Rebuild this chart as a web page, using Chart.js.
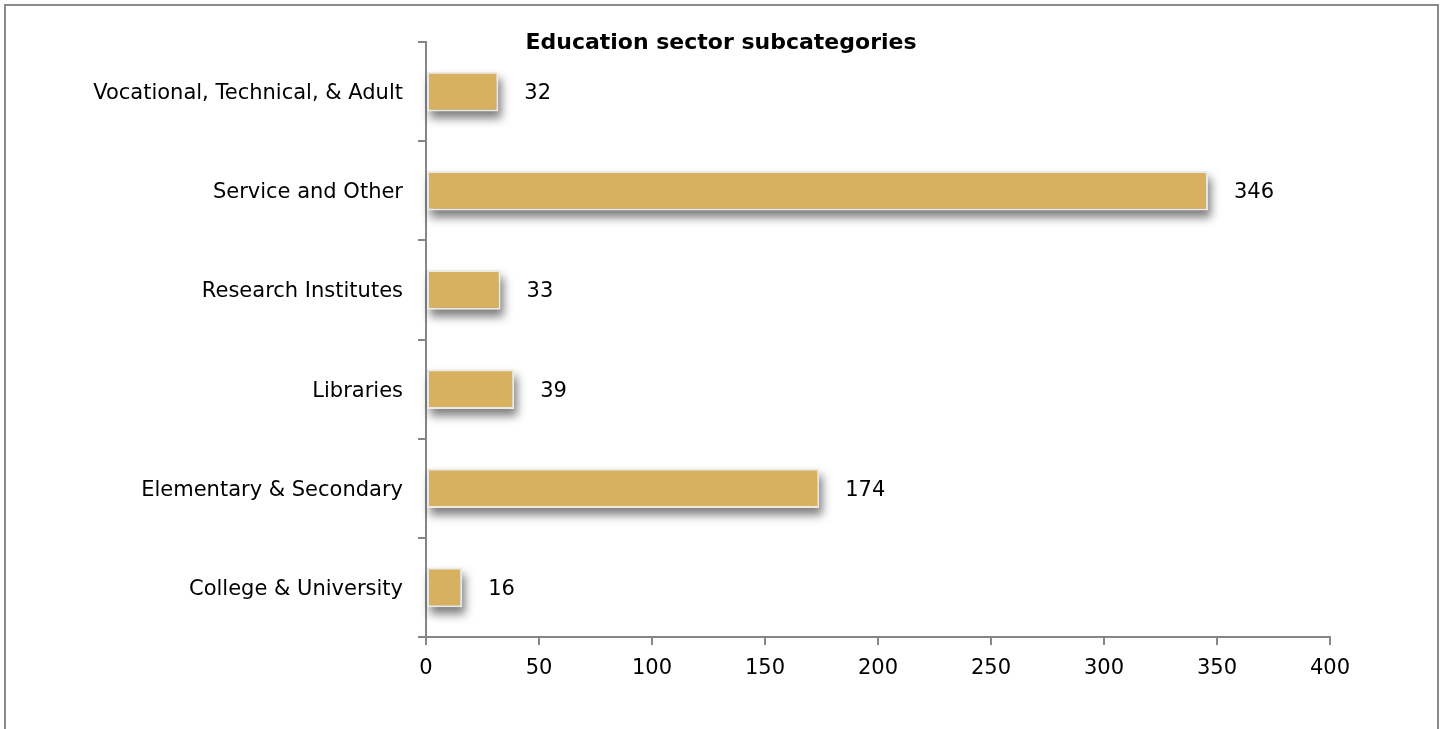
<!DOCTYPE html>
<html>
<head>
<meta charset="utf-8">
<script src="https://cdn.jsdelivr.net/npm/chart.js@4"></script>
<style>
  html, body { margin: 0; padding: 0; background: #fff; }
  #wrap { position: relative; width: 1442px; height: 729px; overflow: hidden; }
  #frame {
    position: absolute; left: 4px; top: 4px; width: 1435px; height: 800px;
    border: 2px solid #8a8a8a; box-sizing: border-box;
  }
  canvas { position: absolute; left: 0; top: 0; }
</style>
</head>
<body>
<div id="wrap">
  <div id="frame"></div>
  <canvas id="eduChart" width="1442" height="729"></canvas>
</div>
<script>
const categories = [
  "Vocational, Technical, & Adult",
  "Service and Other",
  "Research Institutes",
  "Libraries",
  "Elementary & Secondary",
  "College & University"
];
const counts = [32, 346, 33, 39, 174, 16];
const xTicks = [0, 50, 100, 150, 200, 250, 300, 350, 400];

const fontFamily = "'DejaVu Sans', sans-serif";
const axisGray = "#868686";

// blurred drop shadow painted under each bar before the bars themselves
const barShadow = {
  id: "barShadow",
  beforeDatasetsDraw(chart) {
    const ctx = chart.ctx;
    const meta = chart.getDatasetMeta(0);
    ctx.save();
    ctx.filter = "blur(5px)";
    ctx.fillStyle = "rgba(0,0,0,0.5)";
    meta.data.forEach(bar => {
      const p = bar.getProps(["x", "y", "base", "height"], true);
      const left = Math.min(p.x, p.base) + 3;
      const w = Math.abs(p.x - p.base);
      ctx.fillRect(left, p.y - p.height / 2 + 7, w, p.height);
    });
    ctx.restore();
  }
};

// value labels to the right of each bar
const valueLabels = {
  id: "valueLabels",
  afterDatasetsDraw(chart) {
    const ctx = chart.ctx;
    const meta = chart.getDatasetMeta(0);
    ctx.save();
    ctx.font = "21px " + fontFamily;
    ctx.fillStyle = "#000";
    ctx.textAlign = "left";
    ctx.textBaseline = "middle";
    meta.data.forEach((bar, i) => {
      ctx.fillText(String(counts[i]), bar.x + 26, bar.y + 2);
    });
    ctx.restore();
  }
};

// title sits on the canvas centre line, level with the top of the plot
const topTitle = {
  id: "topTitle",
  afterDraw(chart) {
    const ctx = chart.ctx;
    ctx.save();
    ctx.font = "bold 22px " + fontFamily;
    ctx.fillStyle = "#000";
    ctx.textAlign = "center";
    ctx.textBaseline = "middle";
    ctx.fillText("Education sector subcategories", chart.width / 2, chart.chartArea.top + 1);
    ctx.restore();
  }
};

new Chart(document.getElementById("eduChart"), {
  type: "bar",
  data: {
    labels: categories,
    datasets: [{
      data: counts,
      backgroundColor: "#D8B160",
      borderColor: "#EDEAE3",
      borderWidth: 2,
      borderSkipped: false,
      barPercentage: 0.4,
      categoryPercentage: 1
    }]
  },
  options: {
    indexAxis: "y",
    responsive: false,
    animation: false,
    layout: { padding: { left: 0, right: 112, top: 42, bottom: 0 } },
    plugins: {
      legend: { display: false },
      tooltip: { enabled: false },
      title: { display: false }
    },
    scales: {
      x: {
        min: 0,
        max: 400,
        afterBuildTicks(scale) {
          scale.ticks = xTicks.map(v => ({ value: v }));
        },
        afterFit(scale) { scale.height = 92; },
        border: { display: true, color: axisGray, width: 2 },
        grid: {
          drawOnChartArea: false,
          drawTicks: true,
          tickLength: 8,
          color: axisGray,
          lineWidth: 2
        },
        ticks: {
          color: "#000",
          padding: 11,
          maxRotation: 0,
          font: { family: fontFamily, size: 21 }
        }
      },
      y: {
        afterFit(scale) { scale.width = 426; },
        border: { display: true, color: axisGray, width: 2 },
        grid: {
          offset: true,
          drawOnChartArea: false,
          drawTicks: true,
          tickLength: 8,
          color: axisGray,
          lineWidth: 2
        },
        ticks: {
          color: "#000",
          padding: 15,
          labelOffset: 2,
          font: { family: fontFamily, size: 21 }
        }
      }
    }
  },
  plugins: [barShadow, valueLabels, topTitle]
});
</script>
</body>
</html>
